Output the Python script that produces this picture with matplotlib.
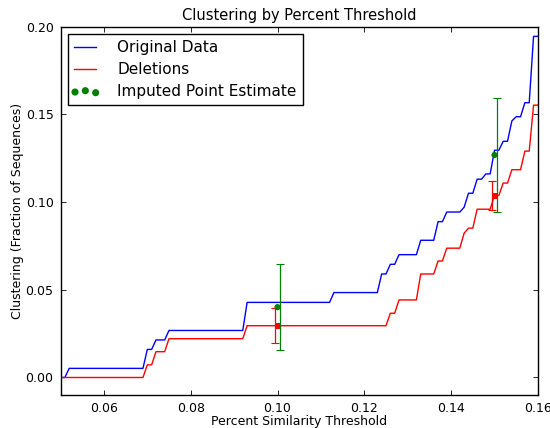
import matplotlib
matplotlib.use("Agg")
import matplotlib.pyplot as plt
from matplotlib.legend_handler import HandlerPathCollection

# step curves, vertices (x = percent similarity threshold)
orig_x = [0.050, 0.051, 0.052, 0.069, 0.070, 0.071, 0.072, 0.074, 0.075, 0.092,
          0.093, 0.112, 0.113, 0.123, 0.124, 0.125, 0.126, 0.127, 0.128, 0.132,
          0.133, 0.136, 0.137, 0.138, 0.139, 0.142, 0.143, 0.144, 0.145, 0.146,
          0.147, 0.148, 0.149, 0.150, 0.151, 0.152, 0.153, 0.154, 0.155, 0.156,
          0.157, 0.158, 0.159, 0.160]
orig_y = [0.0, 0.0, 0.0052, 0.0052, 0.0160, 0.0160, 0.0214, 0.0214, 0.0268, 0.0268,
          0.0428, 0.0428, 0.0484, 0.0484, 0.0590, 0.0590, 0.0645, 0.0645, 0.0700, 0.0700,
          0.0782, 0.0782, 0.0888, 0.0888, 0.0943, 0.0943, 0.0970, 0.1050, 0.1050, 0.1130,
          0.1130, 0.1160, 0.1160, 0.1295, 0.1295, 0.1346, 0.1346, 0.1462, 0.1486, 0.1486,
          0.1566, 0.1566, 0.1944, 0.1944]

del_x = [0.050, 0.069, 0.070, 0.071, 0.072, 0.074, 0.075, 0.092, 0.093, 0.125,
         0.126, 0.127, 0.128, 0.132, 0.133, 0.136, 0.137, 0.138, 0.139, 0.142,
         0.143, 0.144, 0.145, 0.146, 0.149, 0.150, 0.151, 0.152, 0.153, 0.154,
         0.156, 0.157, 0.158, 0.159, 0.160]
del_y = [0.0, 0.0, 0.0072, 0.0072, 0.0147, 0.0147, 0.0221, 0.0221, 0.0295, 0.0295,
         0.0366, 0.0366, 0.0442, 0.0442, 0.0590, 0.0590, 0.0664, 0.0664, 0.0737, 0.0737,
         0.0822, 0.0851, 0.0851, 0.0959, 0.0959, 0.1037, 0.1037, 0.1108, 0.1108, 0.1184,
         0.1184, 0.1290, 0.1290, 0.1552, 0.1552]

# imputed point estimates with their intervals
imp_x = [0.10, 0.15]
imp_y = [0.0401, 0.1268]
imp_lo = [0.0157, 0.0944]
imp_hi = [0.0645, 0.1590]

# deletion estimates at the same thresholds
dpt_x = [0.10, 0.15]
dpt_y = [0.0293, 0.1035]
dpt_lo = [0.0199, 0.0955]
dpt_hi = [0.0394, 0.1117]

fig = plt.figure(figsize=(5.5, 4.28), dpi=100)
ax = fig.add_axes([0.110, 0.077, 0.868, 0.861])

ax.plot(orig_x, orig_y, color="b", lw=1.0, label="Original Data")
ax.plot(del_x, del_y, color="r", lw=1.0, label="Deletions")

off = 0.0005
ax.errorbar([x + off for x in imp_x], imp_y,
            yerr=[[m - l for m, l in zip(imp_y, imp_lo)], [h - m for m, h in zip(imp_y, imp_hi)]],
            fmt="none", ecolor="g", elinewidth=0.9, capsize=2.7, capthick=0.8)
ax.errorbar([x - off for x in dpt_x], dpt_y,
            yerr=[[m - l for m, l in zip(dpt_y, dpt_lo)], [h - m for m, h in zip(dpt_y, dpt_hi)]],
            fmt="none", ecolor="r", elinewidth=0.9, capsize=2.7, capthick=0.8)
imp_pts = ax.scatter(imp_x, imp_y, s=20, color="g", edgecolors="none", zorder=4,
                     label="Imputed Point Estimate")
ax.scatter(dpt_x, dpt_y, s=18, marker="s", color="r", edgecolors="none", zorder=4)

ax.set_xlim(0.05, 0.16)
ax.set_ylim(-0.01, 0.20)
ax.set_xticks([0.06, 0.08, 0.10, 0.12, 0.14, 0.16])
ax.set_yticks([0.00, 0.05, 0.10, 0.15, 0.20])
ax.xaxis.set_major_formatter(matplotlib.ticker.FormatStrFormatter("%.2f"))
ax.yaxis.set_major_formatter(matplotlib.ticker.FormatStrFormatter("%.2f"))
ax.tick_params(direction="in", top=True, right=True, length=3.5, width=0.6,
               labelsize=9, pad=5)
for s in ax.spines.values():
    s.set_linewidth(1.0)

ax.set_title("Clustering by Percent Threshold", fontsize=10.5, pad=5)
ax.set_xlabel("Percent Similarity Threshold", fontsize=9, labelpad=0)
ax.set_ylabel("Clustering (Fraction of Sequences)", fontsize=9, labelpad=1)

leg = ax.legend(loc="upper left", fontsize=11, scatterpoints=3, fancybox=False,
                framealpha=1, edgecolor="black", handlelength=1.45, handletextpad=1.35,
                labelspacing=0.45, borderaxespad=0.5, markerscale=1.15,
                handler_map={imp_pts: HandlerPathCollection(marker_pad=0.05)})
leg.get_frame().set_linewidth(1.0)

fig.savefig("out.png", dpi=100)
